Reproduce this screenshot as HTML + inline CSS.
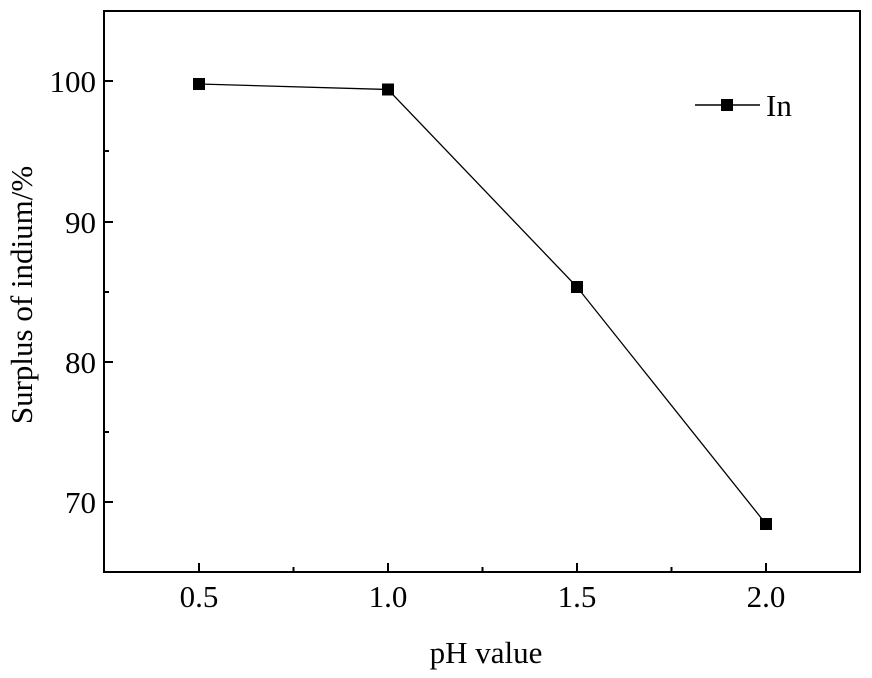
<!DOCTYPE html>
<html><head><style>body{margin:0;background:#fff}</style></head><body>
<svg width="872" height="673" xmlns="http://www.w3.org/2000/svg" font-family="Liberation Serif, serif">
<rect x="104" y="11" width="756" height="561" fill="none" stroke="#000" stroke-width="2"/>
<g stroke="#000" stroke-width="2">
<line x1="104" y1="81" x2="113" y2="81"/><line x1="104" y1="222" x2="113" y2="222"/>
<line x1="104" y1="362" x2="113" y2="362"/><line x1="104" y1="502" x2="113" y2="502"/>
<line x1="104" y1="151" x2="109" y2="151"/><line x1="104" y1="292" x2="109" y2="292"/>
<line x1="104" y1="432" x2="109" y2="432"/><line x1="104" y1="11" x2="109" y2="11"/>
<line x1="199" y1="572" x2="199" y2="563"/><line x1="388" y1="572" x2="388" y2="563"/>
<line x1="577" y1="572" x2="577" y2="563"/><line x1="766" y1="572" x2="766" y2="563"/>
<line x1="293.5" y1="572" x2="293.5" y2="567"/><line x1="482.5" y1="572" x2="482.5" y2="567"/>
<line x1="671.5" y1="572" x2="671.5" y2="567"/>
</g>
<g font-size="31" text-anchor="end">
<text x="96" y="92">100</text><text x="96" y="233">90</text><text x="96" y="373">80</text><text x="96" y="513">70</text>
</g>
<g font-size="31" text-anchor="middle">
<text x="199" y="607">0.5</text><text x="388" y="607">1.0</text><text x="577" y="607">1.5</text><text x="766" y="607">2.0</text>
<text x="486" y="663">pH value</text>
</g>
<text transform="translate(32,295) rotate(-90)" font-size="31" text-anchor="middle">Surplus of indium/%</text>
<polyline points="199,84 388,89.5 577,287 766,524" fill="none" stroke="#000" stroke-width="1.3"/>
<g fill="#000">
<rect x="193" y="78" width="12" height="12"/><rect x="382" y="83.5" width="12" height="12"/>
<rect x="571" y="281" width="12" height="12"/><rect x="760" y="518" width="12" height="12"/>
<rect x="721" y="99" width="12" height="12"/>
</g>
<line x1="695" y1="105" x2="760" y2="105" stroke="#000" stroke-width="1.5"/>
<text x="766" y="116" font-size="31">In</text>
</svg>
</body></html>
